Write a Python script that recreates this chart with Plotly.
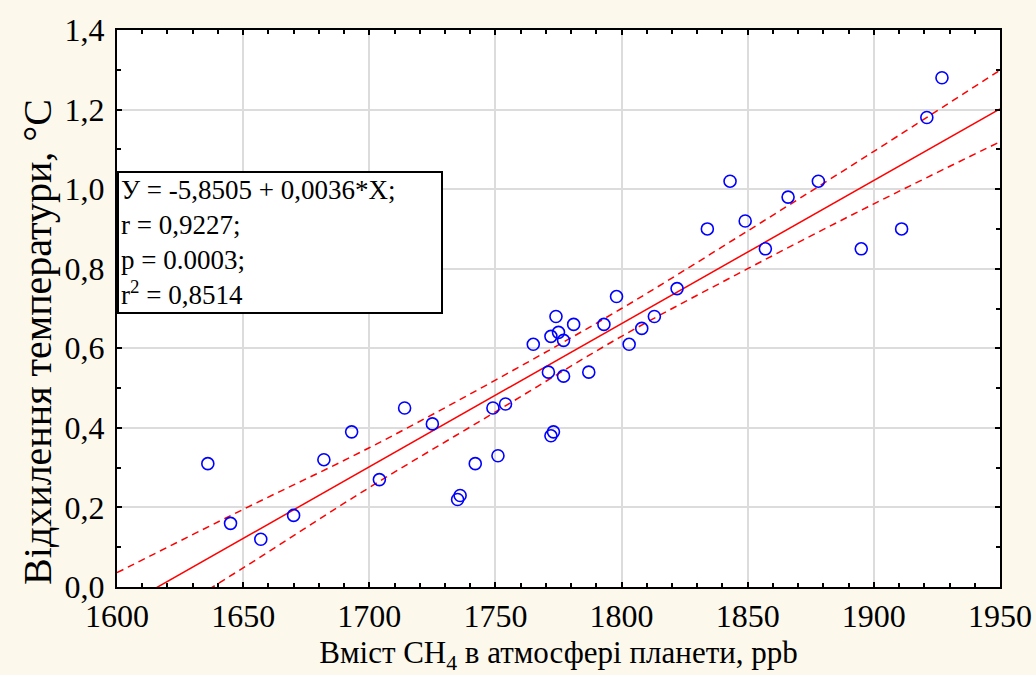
import plotly.graph_objects as go

# Scatter data
ch4_ppb = [1636, 1645, 1657, 1670, 1682, 1693, 1704, 1714, 1725, 1735, 1736, 1742,
           1749, 1751, 1754, 1765, 1771, 1772, 1772, 1773, 1774, 1775, 1777, 1777,
           1781, 1787, 1793, 1798, 1803, 1808, 1813, 1822, 1834, 1843, 1849, 1857,
           1866, 1878, 1895, 1911, 1921, 1927]
temp_dev = [0.31, 0.16, 0.12, 0.18, 0.32, 0.39, 0.27, 0.45, 0.41, 0.22, 0.23, 0.31,
            0.45, 0.33, 0.46, 0.61, 0.54, 0.38, 0.63, 0.39, 0.68, 0.64, 0.53, 0.62,
            0.66, 0.54, 0.66, 0.73, 0.61, 0.65, 0.68, 0.75, 0.90, 1.02, 0.92, 0.85,
            0.98, 1.02, 0.85, 0.90, 1.18, 1.28]

# Regression line
fit_x = [1600, 1950]
fit_y = [-0.058, 1.202]

# Confidence bands
band_x = [1600, 1650, 1700, 1750, 1800, 1850, 1900, 1950]
band_upper = [0.036, 0.195, 0.350, 0.520, 0.700, 0.895, 1.095, 1.299]
band_lower = [-0.150, 0.048, 0.250, 0.440, 0.630, 0.800, 0.963, 1.119]

stats_lines = ["У = -5,8505 + 0,0036*X;", "r = 0,9227;", "p = 0.0003;", "r<sup>2</sup> = 0,8514"]
x_title = "Вміст CH<sub>4</sub> в атмосфері планети, ppb"
y_title = "Відхилення температури, °C"

FONT = "Liberation Serif"
RED = "#FF0000"

fig = go.Figure()
fig.add_trace(go.Scatter(x=band_x, y=band_upper, mode="lines", line_shape="spline",
                         line=dict(color=RED, width=1.5, dash="7px,5px"), hoverinfo="skip"))
fig.add_trace(go.Scatter(x=band_x, y=band_lower, mode="lines", line_shape="spline",
                         line=dict(color=RED, width=1.5, dash="7px,5px"), hoverinfo="skip"))
fig.add_trace(go.Scatter(x=fit_x, y=fit_y, mode="lines",
                         line=dict(color=RED, width=1.5)))
fig.add_trace(go.Scatter(x=ch4_ppb, y=temp_dev, mode="markers",
                         marker=dict(symbol="circle-open", size=12, color="#0000FF",
                                     line=dict(width=1.6, color="#0000FF"))))

axis_common = dict(showline=True, linecolor="black", linewidth=2, mirror="ticks",
                   ticks="inside", ticklen=5, tickcolor="black", tickwidth=1.5,
                   showgrid=True, gridcolor="#DCDCDC", gridwidth=1.5, zeroline=False,
                   automargin=False,
                   tickfont=dict(family=FONT, size=32, color="black"))

fig.update_xaxes(range=[1600, 1950], tickvals=[1600, 1650, 1700, 1750, 1800, 1850, 1900, 1950],
                 minor=dict(dtick=10, tick0=1600, ticks="inside", ticklen=4, tickcolor="black",
                            showgrid=False),
                 title=dict(text=x_title,
                            font=dict(family=FONT, size=31, color="black"), standoff=8),
                 **axis_common)
fig.update_yaxes(range=[0, 1.4], tickvals=[0, 0.2, 0.4, 0.6, 0.8, 1.0, 1.2, 1.4],
                 ticktext=["0,0", "0,2", "0,4", "0,6", "0,8", "1,0", "1,2", "1,4"],
                 ticklabelstandoff=4,
                 minor=dict(dtick=0.1, tick0=0, ticks="inside", ticklen=4, tickcolor="black",
                            showgrid=False),
                 **axis_common)

fig.add_annotation(x=-0.0895, y=0.44, xref="paper", yref="paper", xanchor="center",
                   yanchor="middle", textangle=-90, text=y_title, showarrow=False,
                   font=dict(family=FONT, size=40, color="black"))

fig.add_annotation(x=1600, y=1.046, xref="x", yref="y", xanchor="left", yanchor="top",
                   text="<br>".join(stats_lines), showarrow=False, align="left",
                   font=dict(family=FONT, size=27, color="black"),
                   bgcolor="white", bordercolor="black", borderwidth=2, borderpad=2,
                   width=318)

fig.update_layout(width=1036, height=675, showlegend=False,
                  paper_bgcolor="#FDF8EC", plot_bgcolor="white",
                  margin=dict(l=117, r=36, t=30, b=88))

fig.write_html("out.html", config={"displayModeBar": False},
               post_script="document.body.style.margin='0';document.body.style.background='#FDF8EC';")
